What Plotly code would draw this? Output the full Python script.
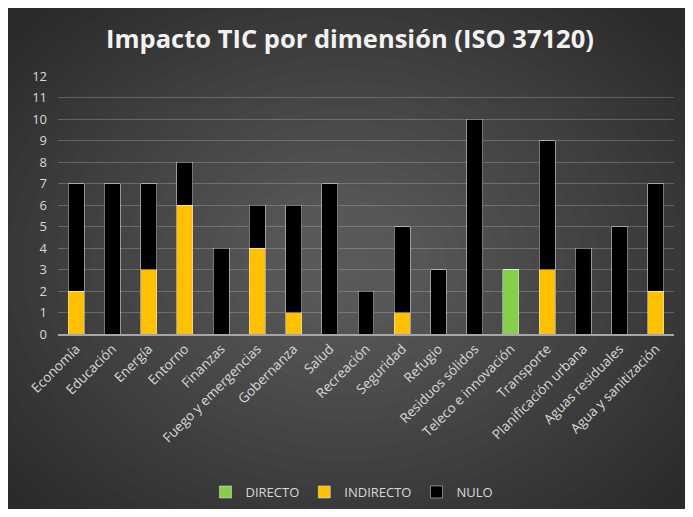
import plotly.graph_objects as go

categories = ["Economía", "Educación", "Energía", "Entorno", "Finanzas",
              "Fuego y emergencias", "Gobernanza", "Salud", "Recreación",
              "Seguridad", "Refugio", "Residuos sólidos", "Teleco e innovación",
              "Transporte", "Planificación urbana", "Aguas residuales",
              "Agua y sanitización"]
directo   = [0, 0, 0, 0, 0, 0, 0, 0, 0, 0, 0, 0, 3, 0, 0, 0, 0]
indirecto = [2, 0, 3, 6, 0, 4, 1, 0, 0, 1, 0, 0, 0, 3, 0, 0, 2]
nulo      = [5, 7, 4, 2, 4, 2, 5, 7, 2, 4, 3, 10, 0, 6, 4, 5, 5]

OFF = 8  # page body margin
W, H = 693 - 2 * OFF, 517 - 2 * OFF
L, T = 58 - OFF, 76 - OFF
R = W - (674 - OFF)
B = H - (334 - OFF)
pw, ph = W - L - R, H - T - B

def px(x):  # reference-window pixel -> paper x
    return (x - OFF - L) / pw

def py(y):
    return (H - B - (y - OFF)) / ph

fig = go.Figure()
fig.add_bar(name="DIRECTO", x=categories, y=directo, marker_color="#86cf4b")
fig.add_bar(name="INDIRECTO", x=categories, y=indirecto, marker_color="#ffc000")
fig.add_bar(name="NULO", x=categories, y=nulo, marker_color="#000000")

shapes = []
cx, cy = 345, 265
N = 26
for i in range(N):
    f = 1 - i / N
    rx, ry = 440 * f, 340 * f
    shapes.append(dict(type="circle", xref="paper", yref="paper",
                       x0=px(cx - rx), x1=px(cx + rx), y0=py(cy + ry), y1=py(cy - ry),
                       fillcolor="rgba(255,255,255,0.0135)", line_width=0, layer="below"))

fig.update_layout(
    width=W, height=H,
    barmode="stack", bargap=0.56,
    paper_bgcolor="#2a2a2a", plot_bgcolor="rgba(0,0,0,0)",
    margin=dict(l=L, r=R, t=T, b=B),
    shapes=shapes,
    font=dict(family="Open Sans", color="#d9d9d9", size=12),
    title=dict(text="<b>Impacto TIC por dimensión (ISO 37120)</b>", x=(350 - OFF) / W, xref="container",
               xanchor="center",
               y=1 - (39 - OFF) / H, yref="container", yanchor="middle",
               font=dict(family="Open Sans", size=25.5, color="#f2f2f2")),
    legend=dict(orientation="h", x=(352 - OFF) / W, xanchor="center", xref="container",
                y=1 - (492 - OFF) / H, yref="container", yanchor="middle",
                bgcolor="rgba(0,0,0,0)",
                font=dict(size=13, color="#d9d9d9"), traceorder="normal"),
    showlegend=True,
)
fig.update_yaxes(range=[0, 12], dtick=1, gridcolor="rgba(200,200,200,0.3)", gridwidth=1,
                 zeroline=False, showline=False, ticks="", ticklabelstandoff=10,
                 tickfont=dict(size=13, color="#d9d9d9"))
fig.update_xaxes(tickangle=-45, showline=True, linecolor="#a6a6a6", linewidth=1.5,
                 ticks="", tickfont=dict(size=13.5, color="#d9d9d9"), showgrid=False)

fig.write_html("out.html")
